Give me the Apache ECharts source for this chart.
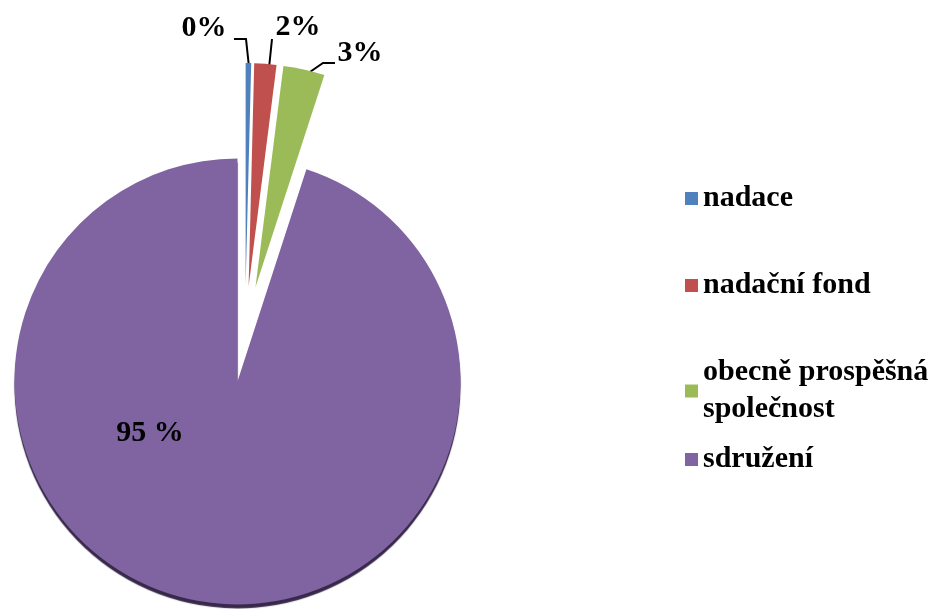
<!DOCTYPE html>
<html>
<head>
<meta charset="utf-8">
<script src="https://cdn.jsdelivr.net/npm/echarts@6/dist/echarts.min.js"></script>
<style>
  html, body { margin: 0; padding: 0; background: #fff; }
  #chart { width: 947px; height: 609px; }
</style>
</head>
<body>
<div id="chart"></div>
<script>
const categories = ['nadace', 'nadační fond', 'obecně prospěšná\nspolečnost', 'sdružení']
const shares = [0.4, 1.6, 3.0, 95.0]
const colors = ['#4F81BD', '#C0504D', '#9BBB59', '#8064A2']

const fontFamily = '"Liberation Serif", "Times New Roman", serif'
const explode = 48

const chart = echarts.init(document.getElementById('chart'))

// explode offset of each slice (the label and its line move with the slice)
const total = shares.reduce((a, b) => a + b, 0)
let acc = 0
const sliceShift = shares.map(v => {
  const mid = (acc + v / 2) / total * Math.PI * 2
  acc += v
  return [Math.sin(mid) * explode, -Math.cos(mid) * explode]
})

const data = categories.map((name, i) => {
  const item = {
    name: name,
    value: shares[i],
    selected: true,
    itemStyle: { color: colors[i] }
  }
  if (i === categories.length - 1) {
    // big slice gets its label inside, like the original
    item.label = {
      position: 'inside',
      formatter: p => Math.round(p.percent) + ' %'
    }
    item.labelLine = { show: false }
    item.itemStyle.shadowColor = 'rgba(45,30,65,0.95)'
    item.itemStyle.shadowOffsetY = 4
    item.itemStyle.shadowBlur = 1
  }
  return item
})

// Excel style placement: label centre and leader line, page coordinates
const labelSpots = [
  { c: [204, 28], line: [[249, 67], [246, 39], [234, 39]] },
  { c: [298, 27], line: [[269, 68], [272, 39], [272, 39]] },
  { c: [360, 53], line: [[307, 74], [323, 63], [335, 63]] },
  { c: [150, 433] }
]

function placeLabel(params) {
  const spot = labelSpots[params.dataIndex]
  const s = sliceShift[params.dataIndex]
  const r = params.labelRect
  const out = {
    dx: spot.c[0] - s[0] - (r.x + r.width / 2),
    dy: spot.c[1] - s[1] - (r.y + r.height / 2)
  }
  if (spot.line) {
    out.labelLinePoints = spot.line.map(p => [p[0] - s[0], p[1] - s[1]])
  }
  return out
}

const legendTops = [175, 262, 349, 436]
const legends = categories.map((name, i) => ({
  data: [name],
  orient: 'vertical',
  left: 680,
  top: legendTops[i],
  itemWidth: 13,
  itemHeight: 13,
  itemGap: 0,
  icon: 'rect',
  selectedMode: false,
  textStyle: {
    fontFamily: fontFamily,
    fontWeight: 'bold',
    fontSize: 30,
    lineHeight: 37,
    color: '#000'
  }
}))

const option = {
  animation: false,
  legend: legends,
  series: [
    {
      type: 'pie',
      center: [245, 334],
      radius: [0, 223],
      startAngle: 90,
      clockwise: true,
      selectedMode: 'multiple',
      selectedOffset: explode,
      silent: true,
      data: data,
      label: {
        show: true,
        position: 'outside',
        formatter: p => Math.round(p.percent) + '%',
        fontFamily: fontFamily,
        fontWeight: 'bold',
        fontSize: 30,
        color: '#000'
      },
      labelLine: {
        show: true,
        length: 12,
        length2: 14,
        lineStyle: { color: '#000', width: 2 }
      },
      labelLayout: placeLabel
    }
  ]
}
chart.setOption(option)
</script>
</body>
</html>
